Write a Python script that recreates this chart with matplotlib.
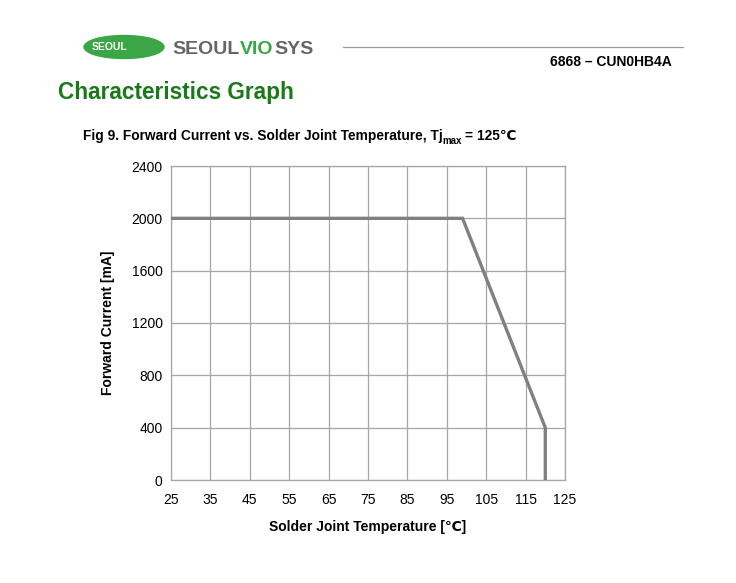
import matplotlib
matplotlib.use("Agg")
import matplotlib.pyplot as plt
from matplotlib.patches import Ellipse

plt.rcParams['font.family'] = ['Liberation Sans', 'DejaVu Sans']

# Data
temperature = [25, 99, 120, 120]
current = [2000, 2000, 400, 0]
x_ticks = [25, 35, 45, 55, 65, 75, 85, 95, 105, 115, 125]
y_ticks = [0, 400, 800, 1200, 1600, 2000, 2400]

W, H = 736, 583
fig = plt.figure(figsize=(W / 100, H / 100), dpi=100)

def fx(px):
    return px / W

def fy(py):
    return 1 - py / H

ax = fig.add_axes([fx(171), fy(480), fx(565) - fx(171), fy(166) - fy(480)])
ax.plot(temperature, current, color='#808080', lw=2.4, solid_joinstyle='miter', zorder=3)
ax.set_xlim(25, 125)
ax.set_ylim(0, 2400)
ax.set_xticks(x_ticks)
ax.set_yticks(y_ticks)
ax.grid(True, color='#a6a6a6', lw=0.9)
for s in ax.spines.values():
    s.set_color('#a6a6a6')
    s.set_linewidth(0.9)
ax.tick_params(length=0, labelsize=10, pad=6)
ax.tick_params(axis='x', pad=9)
ax.set_xlabel('Solder Joint Temperature [℃]', fontsize=10, fontweight='bold', labelpad=10)
ax.set_ylabel('Forward Current [mA]', fontsize=10, fontweight='bold', labelpad=12)

renderer = fig.canvas.get_renderer()

def place(x_px, y_px, s, **kw):
    t = fig.text(fx(x_px), fy(y_px), s, ha='left', va='baseline', **kw)
    bb = t.get_window_extent(renderer)
    return x_px + bb.width

# Header: logo
ell = Ellipse((fx(124), fy(47)), width=fx(80), height=(fy(36) - fy(59)),
              transform=fig.transFigure, color='#3aa645', zorder=2)
fig.patches.append(ell)
fig.text(fx(110), fy(47), 'SEOUL', color='white', fontsize=7.5, fontweight='bold',
         ha='center', va='center')
x = place(172, 54, 'SEOUL', color='#666666', fontsize=14, fontweight='bold')
x = place(x + 1, 54, 'VIO', color='#3aa645', fontsize=14, fontweight='bold')
x = place(x + 1, 54, 'SYS', color='#666666', fontsize=14, fontweight='bold')

fig.add_artist(plt.Line2D([fx(343), fx(683)], [fy(47), fy(47)], color='#999999', lw=0.9,
                          transform=fig.transFigure))
fig.text(fx(672), fy(62), '6868 – CUN0HB4A', fontsize=10, fontweight='bold',
         ha='right', va='center')

fig.text(fx(58), fy(93), 'Characteristics Graph', color='#1a7a1a', fontsize=16.3,
         fontweight='bold', ha='left', va='center')

x = place(83, 140, 'Fig 9. Forward Current vs. Solder Joint Temperature, Tj',
          fontsize=9.9, fontweight='bold')
x = place(x, 144, 'max', fontsize=7, fontweight='bold')
x = place(x + 3, 140, '= 125℃', fontsize=9.9, fontweight='bold')

fig.savefig('out.png', dpi=100)
